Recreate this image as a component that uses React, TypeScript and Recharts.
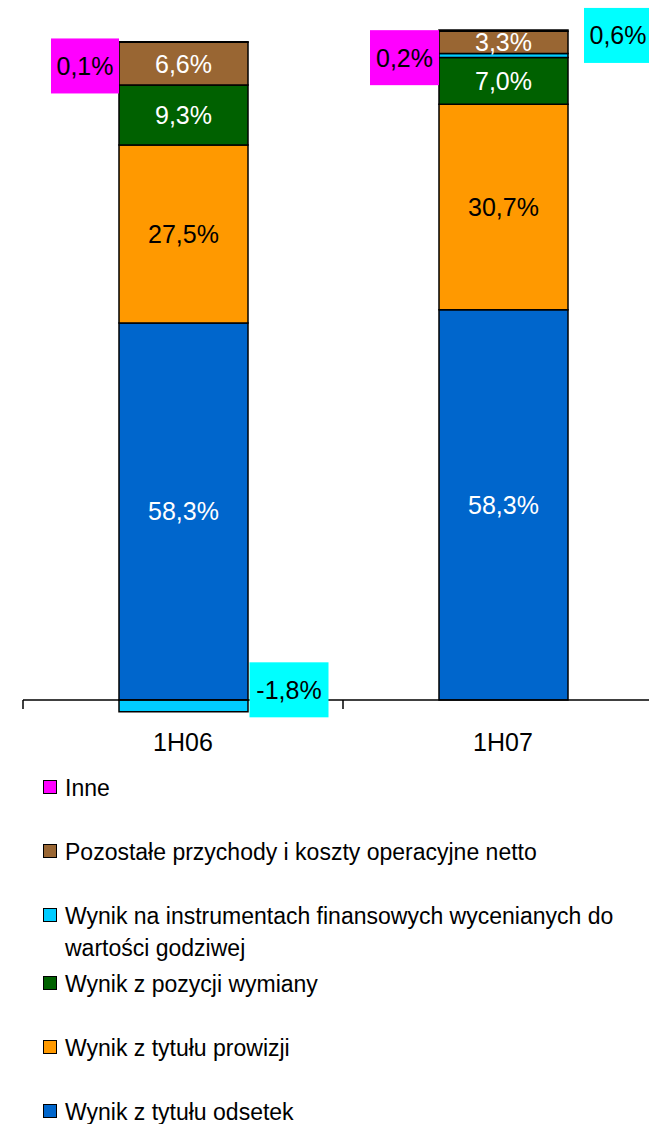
import React from 'react';
import { BarChart, Bar, XAxis, YAxis, LabelList, ReferenceLine, Legend } from 'recharts';

// ---- data ----
const categories = ['1H06', '1H07'];
const odsetek = [58.3, 58.3];
const prowizji = [27.5, 30.7];
const wymiany = [9.3, 7.0];
const instrumenty = [-1.8, 0.6];
const pozostale = [6.6, 3.3];
const inne = [0.1, 0.2];

const seriesDefs = [
  { key: 'odsetek', name: 'Wynik z tytułu odsetek', values: odsetek, color: '#0066CC', text: '#FFFFFF' },
  { key: 'prowizji', name: 'Wynik z tytułu prowizji', values: prowizji, color: '#FF9900', text: '#000000' },
  { key: 'wymiany', name: 'Wynik z pozycji wymiany', values: wymiany, color: '#006100', text: '#FFFFFF' },
  { key: 'instrumenty', name: 'Wynik na instrumentach finansowych wycenianych do wartości godziwej', values: instrumenty, color: '#00CCFF', text: '#000000', box: '#00FFFF' },
  { key: 'pozostale', name: 'Pozostałe przychody i koszty operacyjne netto', values: pozostale, color: '#996633', text: '#FFFFFF' },
  { key: 'inne', name: 'Inne', values: inne, color: '#FF00FF', text: '#000000', box: '#FF00FF' },
];

// 100% stacked (Excel style: normalised by the sum of absolute values)
const data = categories.map((c, i) => {
  const total = seriesDefs.reduce((s, d) => s + Math.abs(d.values[i]), 0);
  const row: any = { category: c };
  seriesDefs.forEach((d) => {
    row[d.key] = (d.values[i] / total) * 100;
    row[d.key + 'Raw'] = d.values[i];
  });
  return row;
});

// ---- styling / layout ----
const FONT = '"Liberation Sans", Arial, sans-serif';
const LABEL_SIZE = 25;
const fmt = (v: any) => Number(v).toFixed(1).replace('.', ',') + '%';

// manually placed callout labels (offsets relative to the bar segment)
const callouts: Record<string, { side: 'left' | 'right'; gap: number; width: number; shift: number }[]> = {
  instrumenty: [
    { side: 'right', gap: 1.5, width: 79, shift: -16 },
    { side: 'right', gap: 16, width: 68, shift: -20 },
  ],
  inne: [
    { side: 'left', gap: 0, width: 68, shift: 24 },
    { side: 'left', gap: 0, width: 69, shift: 27 },
  ],
};
const CALLOUT_H = 55;
const legendRowHeights = [64, 64, 68, 64, 64, 64];

const makeCallout = (key: string, boxColor: string) => (props: any) => {
  const vb = props.viewBox || props;
  const x = Number(vb.x);
  const y = Number(vb.y);
  const w = Number(vb.width);
  const h = Number(vb.height);
  const idx = props.index;
  const cfg = callouts[key][idx];
  if (!cfg) return null;
  const rawVal = data[idx][key + 'Raw'];
  const cy = y + h / 2 + cfg.shift;
  const bx = cfg.side === 'right' ? x + w + cfg.gap : x - cfg.gap - cfg.width;
  return (
    <g>
      <rect x={bx} y={cy - CALLOUT_H / 2} width={cfg.width} height={CALLOUT_H} fill={boxColor} />
      <text
        x={bx + cfg.width / 2}
        y={cy}
        textAnchor="middle"
        dominantBaseline="central"
        fontFamily={FONT}
        fontSize={LABEL_SIZE}
        fill="#000000"
      >
        {fmt(rawVal)}
      </text>
    </g>
  );
};

const renderLegend = () => {
  const items = [...seriesDefs].reverse();
  return (
    <div style={{ fontFamily: FONT, fontSize: 23, lineHeight: '32px', color: '#000' }}>
      {items.map((d, i) => (
        <div key={d.key} style={{ display: 'flex', alignItems: 'flex-start', height: legendRowHeights[i] }}>
          <div
            style={{
              width: 12,
              height: 12,
              marginTop: 8,
              marginRight: 8,
              background: d.color,
              border: '1.5px solid #000',
              flex: '0 0 auto',
            }}
          />
          <div style={{ width: 575 }}>{d.name}</div>
        </div>
      ))}
    </div>
  );
};

export default function App() {
  return (
    <div style={{ position: 'absolute', top: 0, left: 0, width: 649, height: 1124, overflow: 'hidden', background: '#fff' }}>
      <BarChart
        width={663}
        height={1124}
        data={data}
        stackOffset="sign"
        margin={{ top: 30, right: 0, bottom: 360.5, left: 23 }}
        barSize={129}
      >
        <XAxis
          dataKey="category"
          axisLine={false}
          tickLine={false}
          tickSize={0}
          tickMargin={0}
          height={30}
          interval={0}
          tick={{ fill: '#000', fontSize: 25, fontFamily: FONT }}
        />
        <YAxis hide type="number" domain={[-5, 100]} />
        {seriesDefs.map((d) => (
          <Bar
            key={d.key}
            dataKey={d.key}
            name={d.name}
            stackId="a"
            fill={d.color}
            stroke="#000"
            strokeWidth={1.5}
            isAnimationActive={false}
          >
            {d.box ? (
              <LabelList dataKey={d.key + 'Raw'} content={makeCallout(d.key, d.box)} />
            ) : (
              <LabelList
                dataKey={d.key + 'Raw'}
                position="center"
                formatter={fmt}
                fill={d.text}
                fontSize={LABEL_SIZE}
                fontFamily={FONT}
              />
            )}
          </Bar>
        ))}
        <ReferenceLine y={0} stroke="#000" strokeWidth={1.5} />
        <ReferenceLine
          segment={[{ x: '1H06', y: 0 }, { x: '1H06', y: -1.35 }]}
          position="start"
          stroke="#000"
          strokeWidth={1.5}
        />
        <ReferenceLine
          segment={[{ x: '1H07', y: 0 }, { x: '1H07', y: -1.35 }]}
          position="start"
          stroke="#000"
          strokeWidth={1.5}
        />
        <Legend
          layout="vertical"
          align="center"
          verticalAlign="bottom"
          wrapperStyle={{ top: 772, left: 43, right: 'auto', bottom: 'auto', width: 600, height: 0, overflow: 'visible' }}
          content={renderLegend}
        />
      </BarChart>
    </div>
  );
}
